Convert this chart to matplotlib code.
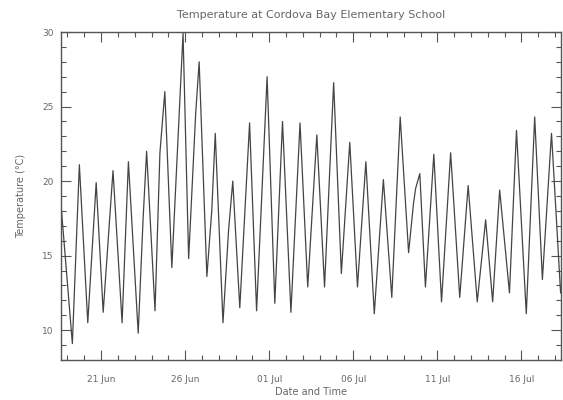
import numpy as np
import pandas as pd
import matplotlib
matplotlib.use("Agg")
import matplotlib.pyplot as plt
import matplotlib.dates as mdates

# turning points of the hourly record
times = [
    "06-18 15:00", "06-19 07:00", "06-19 17:00", "06-20 05:00", "06-20 17:00",
    "06-21 03:00", "06-21 17:00", "06-22 06:00", "06-22 15:00", "06-23 05:00",
    "06-23 12:00", "06-23 17:00", "06-24 05:00", "06-24 12:00", "06-24 19:00",
    "06-25 05:00", "06-25 21:00", "06-26 05:00", "06-26 15:00", "06-26 20:00",
    "06-27 07:00", "06-27 14:00", "06-27 19:00", "06-28 06:00", "06-28 14:00",
    "06-28 20:00", "06-29 06:00", "06-29 20:00", "06-30 06:00", "06-30 21:00",
    "07-01 08:00", "07-01 19:00", "07-02 07:00", "07-02 20:00", "07-03 07:00",
    "07-03 20:00", "07-04 07:00", "07-04 20:00", "07-05 07:00", "07-05 19:00",
    "07-06 06:00", "07-06 18:00", "07-07 06:00", "07-07 19:00", "07-08 07:00",
    "07-08 19:00", "07-09 07:00", "07-09 14:00", "07-09 17:00", "07-09 23:00",
    "07-10 07:00", "07-10 19:00", "07-11 06:00", "07-11 19:00", "07-12 08:00",
    "07-12 20:00", "07-13 09:00", "07-13 21:00", "07-14 07:00", "07-14 17:00",
    "07-15 07:00", "07-15 17:00", "07-16 07:00", "07-16 19:00", "07-17 06:00",
    "07-17 19:00", "07-18 08:00",
]
temps = [
    18.3, 9.1, 21.1, 10.5, 19.9,
    11.2, 20.7, 10.5, 21.3, 9.8,
    17.5, 22.0, 11.3, 21.9, 26.0,
    14.2, 29.9, 14.8, 24.5, 28.0,
    13.6, 18.0, 23.2, 10.5, 16.7,
    20.0, 11.5, 23.9, 11.3, 27.0,
    11.8, 24.0, 11.2, 23.9, 12.9,
    23.1, 12.9, 26.6, 13.8, 22.6,
    12.9, 21.3, 11.1, 20.1, 12.2,
    24.3, 15.2, 18.5, 19.5, 20.5,
    12.9, 21.8, 11.9, 21.9, 12.2,
    19.7, 11.9, 17.4, 11.9, 19.4,
    12.5, 23.4, 11.1, 24.3, 13.4,
    23.2, 12.5,
]

t = pd.to_datetime(["2007-" + s for s in times])

fig = plt.figure(figsize=(5.63, 4.0), dpi=100)
ax = fig.add_axes([0.108, 0.10, 0.889, 0.82])

ax.plot(t, temps, color="#444444", linewidth=0.9)

ax.set_xlim(pd.Timestamp("2007-06-18 14:30"), pd.Timestamp("2007-07-18 09:00"))
ax.set_ylim(8, 30)

ax.set_yticks([10, 15, 20, 25, 30])
ax.set_yticks(np.arange(8, 31, 1), minor=True)
ax.xaxis.set_major_locator(mdates.DayLocator(bymonthday=[1, 6, 11, 16, 21, 26]))
ax.xaxis.set_major_formatter(mdates.DateFormatter("%d %b"))
ax.xaxis.set_minor_locator(mdates.DayLocator())

txt = "#666666"
ax.tick_params(which="both", direction="in", top=True, right=True,
               colors="#555555", labelcolor=txt, labelsize=6.5, width=0.8)
ax.tick_params(which="major", length=7)
ax.tick_params(axis="x", which="major", pad=11)
ax.tick_params(axis="y", which="major", pad=5)
ax.tick_params(which="minor", length=3.5)
for s in ax.spines.values():
    s.set_color("#555555")
    s.set_linewidth(1.0)

ax.set_title("Temperature at Cordova Bay Elementary School",
             fontsize=8, color=txt, pad=10)
ax.set_xlabel("Date and Time", fontsize=7, color=txt, labelpad=2)
ax.set_ylabel("Temperature (°C)", fontsize=7, color=txt, labelpad=12)

fig.savefig("out.png", dpi=100)
